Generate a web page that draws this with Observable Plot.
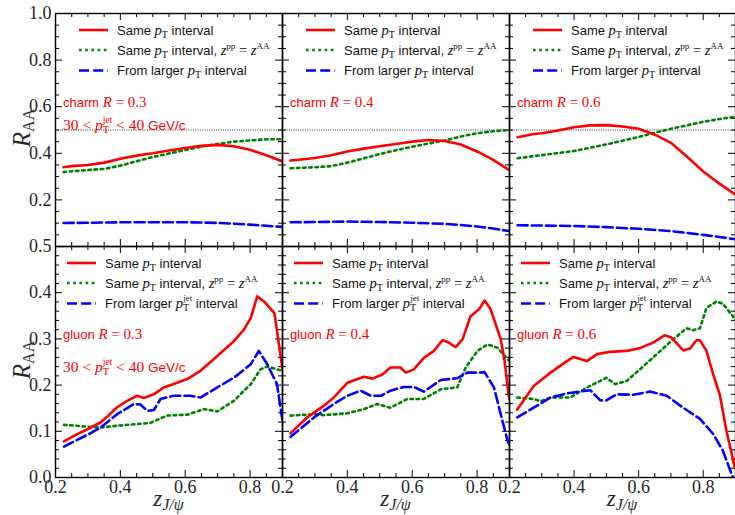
<!DOCTYPE html>
<html><head><meta charset="utf-8">
<script src="https://cdn.jsdelivr.net/npm/d3@7"></script>
<script src="https://cdn.jsdelivr.net/npm/@observablehq/plot@0.6"></script>
<style>
body{margin:0;background:#fff;}
#chart{position:relative;width:735px;height:515px;overflow:hidden;background:#fff;}
#chart svg{position:absolute;overflow:visible;background:transparent;}
</style></head><body><div id="chart"></div>
<script>
// ---------------- data (z, R_AA) ----------------
const xTickLabels = [0.2, 0.4, 0.6, 0.8];
const yTickLabelsTop = [0.2, 0.4, 0.6, 0.8, 1.0];
const yTickLabelsBottom = [0.0, 0.1, 0.2, 0.3, 0.4, 0.5];
const seriesNames = ["Same pT interval", "Same pT interval, zpp = zAA", "From larger pT interval"];
const panelTitles = ["charm R = 0.3", "charm R = 0.4", "charm R = 0.6", "gluon R = 0.3", "gluon R = 0.4", "gluon R = 0.6"];

const charm03Same = [[0.225,0.340],[0.25,0.345],[0.3,0.350],[0.35,0.360],[0.4,0.377],[0.45,0.390],[0.5,0.400],[0.55,0.412],[0.6,0.423],[0.65,0.432],[0.7,0.436],[0.75,0.430],[0.8,0.415],[0.85,0.392],[0.9,0.365]];
const charm03Zpp = [[0.225,0.320],[0.3,0.328],[0.35,0.333],[0.4,0.347],[0.45,0.366],[0.5,0.384],[0.55,0.399],[0.6,0.414],[0.65,0.429],[0.7,0.440],[0.75,0.450],[0.8,0.455],[0.85,0.460],[0.9,0.460]];
const charm03Larger = [[0.225,0.101],[0.3,0.102],[0.4,0.104],[0.5,0.104],[0.6,0.104],[0.65,0.103],[0.7,0.101],[0.75,0.098],[0.8,0.094],[0.85,0.089],[0.9,0.084]];

const charm04Same = [[0.225,0.369],[0.25,0.372],[0.3,0.380],[0.35,0.392],[0.4,0.408],[0.45,0.420],[0.5,0.430],[0.55,0.440],[0.6,0.450],[0.65,0.457],[0.7,0.453],[0.75,0.438],[0.8,0.408],[0.85,0.372],[0.9,0.327]];
const charm04Zpp = [[0.225,0.336],[0.3,0.340],[0.35,0.345],[0.4,0.360],[0.45,0.378],[0.5,0.397],[0.55,0.413],[0.6,0.428],[0.65,0.442],[0.7,0.455],[0.75,0.472],[0.8,0.486],[0.85,0.495],[0.9,0.500]];
const charm04Larger = [[0.225,0.104],[0.3,0.105],[0.4,0.107],[0.5,0.105],[0.6,0.102],[0.7,0.097],[0.75,0.092],[0.8,0.086],[0.85,0.077],[0.9,0.066]];

const charm06Same = [[0.225,0.469],[0.275,0.483],[0.3,0.486],[0.35,0.498],[0.4,0.512],[0.45,0.520],[0.5,0.521],[0.55,0.515],[0.6,0.505],[0.65,0.480],[0.7,0.445],[0.75,0.385],[0.8,0.322],[0.85,0.270],[0.9,0.222]];
const charm06Zpp = [[0.225,0.379],[0.3,0.392],[0.4,0.410],[0.5,0.438],[0.6,0.470],[0.65,0.488],[0.7,0.505],[0.75,0.520],[0.8,0.535],[0.85,0.547],[0.9,0.557]];
const charm06Larger = [[0.225,0.091],[0.3,0.090],[0.4,0.088],[0.5,0.083],[0.6,0.076],[0.7,0.066],[0.8,0.050],[0.85,0.041],[0.9,0.031]];

const gluon03Same = [[0.226,0.078],[0.267,0.094],[0.30,0.105],[0.339,0.119],[0.36,0.132],[0.39,0.152],[0.421,0.166],[0.452,0.177],[0.472,0.172],[0.503,0.180],[0.534,0.195],[0.575,0.205],[0.606,0.213],[0.647,0.231],[0.699,0.263],[0.75,0.295],[0.781,0.320],[0.802,0.345],[0.822,0.392],[0.843,0.381],[0.875,0.356],[0.9,0.235]];
const gluon03Zpp = [[0.226,0.114],[0.3,0.110],[0.339,0.108],[0.39,0.112],[0.492,0.118],[0.544,0.134],[0.606,0.136],[0.658,0.148],[0.699,0.143],[0.75,0.166],[0.802,0.202],[0.832,0.234],[0.853,0.240],[0.9,0.231]];
const gluon03Larger = [[0.226,0.067],[0.3,0.093],[0.339,0.108],[0.39,0.137],[0.441,0.159],[0.462,0.158],[0.483,0.144],[0.503,0.146],[0.524,0.170],[0.565,0.177],[0.616,0.177],[0.647,0.173],[0.699,0.195],[0.75,0.216],[0.802,0.245],[0.827,0.274],[0.853,0.245],[0.883,0.202],[0.9,0.123]];

const gluon04Same = [[0.225,0.096],[0.276,0.130],[0.327,0.155],[0.358,0.173],[0.40,0.205],[0.451,0.218],[0.477,0.214],[0.508,0.223],[0.533,0.238],[0.564,0.238],[0.580,0.227],[0.605,0.234],[0.636,0.259],[0.667,0.274],[0.693,0.297],[0.708,0.294],[0.734,0.282],[0.755,0.299],[0.780,0.349],[0.806,0.364],[0.823,0.383],[0.842,0.364],[0.873,0.299],[0.885,0.252],[0.897,0.180],[0.9,0.170]];
const gluon04Zpp = [[0.225,0.134],[0.297,0.137],[0.327,0.135],[0.40,0.139],[0.451,0.148],[0.492,0.159],[0.533,0.151],[0.585,0.170],[0.636,0.170],[0.688,0.191],[0.739,0.195],[0.765,0.238],[0.801,0.274],[0.832,0.288],[0.863,0.281],[0.894,0.256],[0.9,0.252]];
const gluon04Larger = [[0.225,0.088],[0.297,0.130],[0.358,0.159],[0.40,0.177],[0.441,0.188],[0.472,0.177],[0.503,0.177],[0.533,0.188],[0.574,0.196],[0.605,0.196],[0.636,0.186],[0.688,0.211],[0.739,0.215],[0.77,0.227],[0.806,0.227],[0.823,0.228],[0.852,0.195],[0.873,0.137],[0.894,0.080],[0.9,0.070]];

const gluon06Same = [[0.224,0.147],[0.275,0.198],[0.327,0.227],[0.378,0.252],[0.398,0.261],[0.44,0.252],[0.471,0.267],[0.512,0.272],[0.563,0.274],[0.604,0.280],[0.645,0.292],[0.681,0.308],[0.702,0.303],[0.738,0.275],[0.759,0.279],[0.779,0.297],[0.79,0.297],[0.81,0.274],[0.831,0.223],[0.851,0.180],[0.872,0.101],[0.898,0.022]];
const gluon06Zpp = [[0.224,0.173],[0.275,0.170],[0.296,0.165],[0.327,0.173],[0.388,0.173],[0.44,0.195],[0.481,0.209],[0.50,0.216],[0.527,0.202],[0.563,0.209],[0.604,0.234],[0.656,0.267],[0.707,0.299],[0.748,0.323],[0.769,0.319],[0.79,0.323],[0.81,0.367],[0.841,0.381],[0.861,0.376],[0.892,0.349],[0.9,0.340]];
const gluon06Larger = [[0.224,0.130],[0.275,0.151],[0.327,0.173],[0.378,0.182],[0.45,0.189],[0.481,0.167],[0.50,0.167],[0.532,0.180],[0.584,0.179],[0.635,0.186],[0.687,0.177],[0.738,0.151],[0.79,0.127],[0.831,0.094],[0.861,0.058],[0.892,0.0]];

// ---------------- layout ----------------
const colLeft = [55, 282, 509], colW = [227, 227, 226];
const rowTop = [13, 246], rowH = [233, 231];
const ML = 45, MR = 12, MT = 15, MB = 40;
const SERIF = "'Liberation Serif', 'DejaVu Serif', serif";
const SANS = "'Liberation Sans', Arial, sans-serif";
const RED = "#ff0000", GREEN = "#008000", BLUE = "#0000ff";
const chart = document.getElementById("chart");

function rich(g, x, y, parts, fill, anchor) {
  const t = g.append("text").attr("x", x).attr("y", y).attr("fill", fill)
    .style("white-space", "pre").attr("text-anchor", anchor || "start");
  for (const p of parts) {
    const s = t.append("tspan").text(p.t)
      .attr("font-family", p.f === "s" ? SANS : SERIF)
      .attr("font-style", p.i ? "italic" : "normal")
      .attr("font-size", p.size);
    if (p.dy) s.attr("dy", p.dy);
    if (p.dx) s.attr("dx", p.dx);
  }
  return t;
}

function panel(o) {
  const {col, row, same, zpp, larger, title} = o;
  const W = colW[col], H = rowH[row];
  const yDom = row === 0 ? [0, 1] : [0, 0.5];
  const ky = (yDom[1] - yDom[0]) / H, kx = 0.7 / W;
  const yStep = row === 0 ? 0.05 : 0.02, yMaj = row === 0 ? 0.2 : 0.1;
  const yt = d3.range(0, Math.round((yDom[1]) / yStep) + 1).map(i => {
    const v = +(i * yStep).toFixed(4);
    const maj = Math.abs(v / yMaj - Math.round(v / yMaj)) < 1e-6;
    return {v, len: maj ? 7 : 4};
  });
  const xt = d3.range(0, 15).map(i => {
    const v = +(0.2 + i * 0.05).toFixed(4);
    const maj = Math.abs(v / 0.2 - Math.round(v / 0.2)) < 1e-6;
    return {v, len: maj ? 7 : 4};
  });
  const marks = [
    Plot.ruleX(xt, {x: "v", y1: yDom[0], y2: d => yDom[0] + d.len * ky, stroke: "black", strokeWidth: 1}),
    Plot.ruleX(xt, {x: "v", y1: yDom[1], y2: d => yDom[1] - d.len * ky, stroke: "black", strokeWidth: 1}),
    Plot.ruleY(yt, {y: "v", x1: 0.2, x2: d => 0.2 + d.len * kx, stroke: "black", strokeWidth: 1}),
    Plot.ruleY(yt, {y: "v", x1: 0.9, x2: d => 0.9 - d.len * kx, stroke: "black", strokeWidth: 1}),
  ];
  if (row === 0) marks.push(Plot.ruleY([0.5], {stroke: "black", strokeWidth: 0.8, strokeDasharray: "1,1.3"}));
  marks.push(
    Plot.line(zpp, {x: d => d[0], y: d => d[1], stroke: GREEN, strokeWidth: 2.6, strokeDasharray: "2.6,3.6", clip: true}),
    Plot.line(larger, {x: d => d[0], y: d => d[1], stroke: BLUE, strokeWidth: 2.6, strokeDasharray: "10,4.2", clip: true}),
    Plot.line(same, {x: d => d[0], y: d => d[1], stroke: RED, strokeWidth: 2.6, clip: true}),
    Plot.frame({stroke: "black", strokeWidth: 1.4})
  );
  const showY = col === 0, showX = row === 1;
  if (showY) marks.push(Plot.axisY({ticks: row === 0 ? yTickLabelsTop : yTickLabelsBottom, tickSize: 0, tickPadding: 4, tickFormat: d3.format(".1f"), label: null}));
  if (showX) marks.push(Plot.axisX({ticks: xTickLabels, tickSize: 0, tickPadding: 3, tickFormat: d3.format(".1f"), label: null}));
  const svg = Plot.plot({
    width: W + ML + MR, height: H + MT + MB,
    marginLeft: ML, marginRight: MR, marginTop: MT, marginBottom: MB,
    x: {domain: [0.2, 0.9], ...(showX ? {} : {axis: null})},
    y: {domain: yDom, ...(showY ? {} : {axis: null})},
    style: {fontFamily: SERIF, fontSize: "18px", color: "#262626", background: "transparent", overflow: "visible"},
    marks
  });
  svg.style.left = (colLeft[col] - ML) + "px";
  svg.style.top = (rowTop[row] - MT) + "px";
  chart.appendChild(svg);

  // legend
  const g = d3.select(svg).append("g").attr("transform", `translate(${ML},${MT})`);
  const lx0 = row === 0 ? 24 : 12, lx1 = lx0 + 29, tx = lx1 + 9;
  const rows = [17, 37, 57.5];
  const styles = [
    {stroke: RED, dash: null}, {stroke: GREEN, dash: "2.6,3.6"}, {stroke: BLUE, dash: "10,4.2"}
  ];
  styles.forEach((s, i) => {
    const l = g.append("line").attr("x1", lx0).attr("x2", lx1).attr("y1", rows[i]).attr("y2", rows[i])
      .attr("stroke", s.stroke).attr("stroke-width", 2.6);
    if (s.dash) l.attr("stroke-dasharray", s.dash);
  });
  const S = 13, M = 14.5;
  const pT = [{t: "p", i: 1, size: M}, {t: "T", size: 10, dy: 3}];
  rich(g, tx, rows[0] + 4.5, [{t: "Same ", f: "s", size: S}, ...pT, {t: " interval", f: "s", size: S, dy: -3}], "#111");
  rich(g, tx, rows[1] + 4.5, [{t: "Same ", f: "s", size: S}, ...pT, {t: " interval, ", f: "s", size: S, dy: -3},
    {t: "z", i: 1, size: M}, {t: "pp", size: 9, dy: -5.5}, {t: " = ", size: M, dy: 5.5}, {t: "z", i: 1, size: M}, {t: "AA", size: 9, dy: -5.5}], "#111");
  const larg = row === 0
    ? [{t: "From larger ", f: "s", size: S}, ...pT, {t: " interval", f: "s", size: S, dy: -3}]
    : [{t: "From larger ", f: "s", size: S}, ...pT, {t: "jet", size: 9, dx: -6, dy: -10}, {t: " interval", f: "s", size: S, dy: 7}];
  rich(g, tx, rows[2] + 4.5, larg, "#111");

  // annotation
  const parts = title.split(" ");
  const ay = row === 0 ? 94 : 93;
  rich(g, 8, ay, [{t: parts[0] + " ", f: "s", size: 13}, {t: "R", i: 1, size: 15}, {t: " = " + parts[3], size: 15}], RED);
  if (col === 0) {
    const ay2 = row === 0 ? 117 : 126;
    rich(g, 8, ay2, [{t: "30 < ", size: 15.5}, {t: "p", i: 1, size: 15.5}, {t: "T", size: 10.5, dy: 3}, {t: "jet", size: 9.5, dx: -6.5, dy: -10.5},
      {t: " < 40 ", size: 15.5, dy: 7.5}, {t: "GeV/c", f: "s", size: 13.5}], RED);
  }
}

// overlay for axis titles
const overlay = d3.select(chart).append("svg").attr("width", 735).attr("height", 515).style("left", "0px").style("top", "0px");
[[128], [360]].forEach(([cy]) => {
  const g = overlay.append("g").attr("transform", `translate(30,${cy}) rotate(-90)`);
  rich(g, 0, 0, [{t: "R", i: 1, size: 25}, {t: "AA", size: 16, dy: 4}], "#262626", "middle");
});
colLeft.forEach((l, i) => {
  rich(overlay, l + colW[i] / 2, 506, [{t: "z", i: 1, size: 23}, {t: "J/ψ", i: 1, size: 16, dy: 4}], "#262626", "middle");
});

const all = [
  [charm03Same, charm03Zpp, charm03Larger], [charm04Same, charm04Zpp, charm04Larger], [charm06Same, charm06Zpp, charm06Larger],
  [gluon03Same, gluon03Zpp, gluon03Larger], [gluon04Same, gluon04Zpp, gluon04Larger], [gluon06Same, gluon06Zpp, gluon06Larger]
];
all.forEach((s, k) => panel({col: k % 3, row: Math.floor(k / 3), same: s[0], zpp: s[1], larger: s[2], title: panelTitles[k]}));
</script></body></html>
